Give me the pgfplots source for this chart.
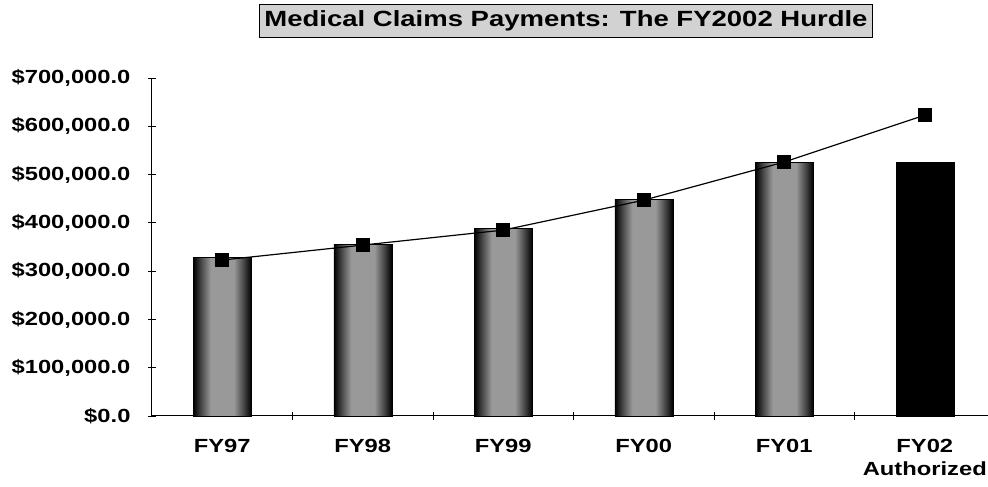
\documentclass[border=0pt]{standalone}
\usepackage{fontspec}
\setmainfont{Liberation Sans}[FakeStretch=1.25]
\usepackage{pgfplots}
\pgfplotsset{compat=1.18}
\pgfdeclarehorizontalshading{barshade}{100bp}{color(0bp)=(black); color(25bp)=(black); color(31bp)=(black!75); color(40bp)=(black!40); color(60bp)=(black!40); color(69bp)=(black!75); color(75bp)=(black); color(100bp)=(black)}
\begin{document}
\begin{tikzpicture}
\useasboundingbox (-152pt,-71pt) rectangle (836pt,416pt);
\begin{axis}[
  at={(0pt,0pt)}, anchor=south west,
  scale only axis, width=836pt, height=338pt,
  xmin=-0.5, xmax=5.45, ymin=0, ymax=700000,
  axis lines*=left,
  axis line style={line width=1pt},
  ytick={0,100000,200000,300000,400000,500000,600000,700000},
  yticklabels={{\$0.0},{\$100,000.0},{\$200,000.0},{\$300,000.0},{\$400,000.0},{\$500,000.0},{\$600,000.0},{\$700,000.0}},
  scaled y ticks=false,
  tick align=center, major tick length=8pt,
  tick style={line width=0.8pt, black},
  xtick={0.5,1.5,2.5,3.5,4.5}, xticklabels={},
  extra x ticks={0,1,2,3,4,5},
  extra x tick labels={FY97,FY98,FY99,FY00,FY01,{FY02\\Authorized}},
  extra x tick style={major tick length=0pt},
  xticklabel style={align=center, yshift=-20pt},
  yticklabel style={xshift=-14pt},
  ticklabel style={font=\bfseries\fontsize{19}{23}\selectfont},
  bar width=58pt,
  clip=false,
  every axis plot/.append style={bar shift=0pt},
]
\pgfplotsset{speckle/.style={ybar, draw=black, shading=barshade}}
\addplot[speckle] coordinates {(0,329000)};
\addplot[speckle] coordinates {(1,356000)};
\addplot[speckle] coordinates {(2,389000)};
\addplot[speckle] coordinates {(3,449000)};
\addplot[speckle] coordinates {(4,526000)};
\addplot[ybar, draw=black, fill=black]
  coordinates {(5,526000)};
\addplot[black, line width=1.2pt, mark=square*, mark size=6.5pt, mark options={fill=black}]
  coordinates {(0,323000) (1,354000) (2,385000) (3,447000) (4,526000) (5,623000)};
\end{axis}
\node[draw=black, line width=1pt, fill=gray!35, inner xsep=5pt, minimum height=33pt,
      font=\bfseries\fontsize{22}{25}\selectfont] at (414pt,395pt)
  {Medical Claims Payments: The FY2002 Hurdle};
\end{tikzpicture}
\end{document}
